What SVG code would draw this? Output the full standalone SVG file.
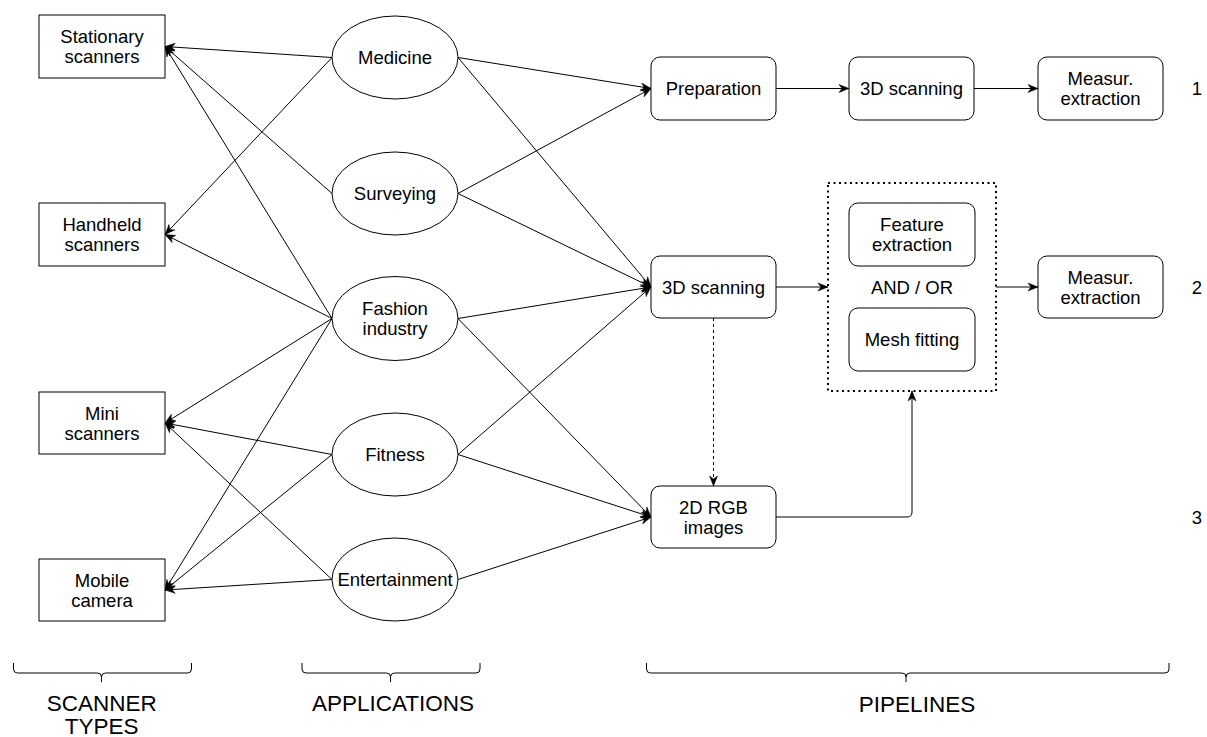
<svg xmlns="http://www.w3.org/2000/svg" width="1207" height="737" viewBox="0 0 1207 737">
<style>
.box{fill:#fff;stroke:#000;stroke-width:1}
.el{fill:#fff;stroke:#000;stroke-width:1}
.t{font-family:"Liberation Sans",Arial,sans-serif;font-size:18.5px;fill:#000;text-anchor:middle}
.big{font-family:"Liberation Sans",Arial,sans-serif;font-size:22.5px;fill:#000;text-anchor:middle}
.c{fill:none;stroke:#000;stroke-width:1;marker-end:url(#ah)}
.br{fill:none;stroke:#000;stroke-width:1}
</style>
<defs>
<marker id="ah" markerUnits="userSpaceOnUse" markerWidth="11" markerHeight="9" refX="10" refY="4" orient="auto" overflow="visible">
<path d="M0,0 L10,4 L0,8 L3,4 Z" fill="#000" stroke="#000" stroke-width="0.5"/>
</marker>
</defs>
<g id="connectors">
<line class="c" x1="332" y1="57.5" x2="165" y2="46.5"/>
<line class="c" x1="332" y1="57.5" x2="165" y2="234.5"/>
<line class="c" x1="332" y1="193.5" x2="165" y2="46.5"/>
<line class="c" x1="332" y1="318.5" x2="165" y2="46.5"/>
<line class="c" x1="332" y1="318.5" x2="165" y2="234.5"/>
<line class="c" x1="332" y1="318.5" x2="165" y2="423"/>
<line class="c" x1="332" y1="318.5" x2="165" y2="590"/>
<line class="c" x1="332" y1="454.5" x2="165" y2="423"/>
<line class="c" x1="332" y1="454.5" x2="165" y2="590"/>
<line class="c" x1="332" y1="579.5" x2="165" y2="423"/>
<line class="c" x1="332" y1="579.5" x2="165" y2="590"/>
<line class="c" x1="458" y1="57.5" x2="651" y2="88.5"/>
<line class="c" x1="458" y1="57.5" x2="651" y2="287"/>
<line class="c" x1="458" y1="193.5" x2="651" y2="88.5"/>
<line class="c" x1="458" y1="193.5" x2="651" y2="287"/>
<line class="c" x1="458" y1="318.5" x2="651" y2="287"/>
<line class="c" x1="458" y1="318.5" x2="651" y2="517"/>
<line class="c" x1="458" y1="454.5" x2="651" y2="287"/>
<line class="c" x1="458" y1="454.5" x2="651" y2="517"/>
<line class="c" x1="458" y1="579.5" x2="651" y2="517"/>
<line class="c" x1="776" y1="88.5" x2="849" y2="88.5"/>
<line class="c" x1="974" y1="88.5" x2="1038" y2="88.5"/>
<line class="c" x1="776" y1="287" x2="828" y2="287"/>
<line class="c" x1="996" y1="287" x2="1038" y2="287"/>
<line class="c" x1="713.5" y1="318" x2="713.5" y2="486" stroke-dasharray="3 3"/>
<path class="c" d="M776,517 L907,517 Q912,517 912,512 L912,391"/>
</g>
<g id="stationary"><rect class="box" x="39" y="15" width="126" height="63"/><text class="t" x="102" y="43.3">Stationary</text><text class="t" x="102" y="63.3">scanners</text></g>
<g id="handheld"><rect class="box" x="39" y="203" width="126" height="63"/><text class="t" x="102" y="231.3">Handheld</text><text class="t" x="102" y="251.3">scanners</text></g>
<g id="mini"><rect class="box" x="39" y="392" width="126" height="62"/><text class="t" x="102" y="419.8">Mini</text><text class="t" x="102" y="439.8">scanners</text></g>
<g id="mobile"><rect class="box" x="39" y="559" width="126" height="62"/><text class="t" x="102" y="586.8">Mobile</text><text class="t" x="102" y="606.8">camera</text></g>
<g id="medicine"><ellipse class="el" cx="395" cy="57.5" rx="63" ry="41.5"/><text class="t" x="395" y="64.1">Medicine</text></g>
<g id="surveying"><ellipse class="el" cx="395" cy="193.5" rx="63" ry="41.5"/><text class="t" x="395" y="200.1">Surveying</text></g>
<g id="fashion"><ellipse class="el" cx="395" cy="318.5" rx="63" ry="42"/><text class="t" x="395" y="315.3">Fashion</text><text class="t" x="395" y="335.3">industry</text></g>
<g id="fitness"><ellipse class="el" cx="395" cy="454.5" rx="63" ry="41.5"/><text class="t" x="395" y="461.1">Fitness</text></g>
<g id="entertainment"><ellipse class="el" cx="395" cy="579.5" rx="63" ry="41.5"/><text class="t" x="395" y="586.1">Entertainment</text></g>
<g id="preparation"><rect class="box" x="651" y="57" width="125" height="63" rx="9"/><text class="t" x="713.5" y="95.1">Preparation</text></g>
<g id="scan1"><rect class="box" x="849" y="57" width="125" height="63" rx="9"/><text class="t" x="911.5" y="95.1">3D scanning</text></g>
<g id="measur1"><rect class="box" x="1038" y="57" width="125" height="63" rx="9"/><text class="t" x="1100.5" y="85.3">Measur.</text><text class="t" x="1100.5" y="105.3">extraction</text></g>
<g id="scan2"><rect class="box" x="651" y="256" width="125" height="62" rx="9"/><text class="t" x="713.5" y="293.6">3D scanning</text></g>
<g id="container"><rect x="828" y="183" width="168" height="208" fill="none" stroke="#000" stroke-width="2" stroke-dasharray="2 3.5"/><text class="t" x="912" y="293.6">AND / OR</text></g>
<g id="feature"><rect class="box" x="849" y="203" width="126" height="63" rx="9"/><text class="t" x="912" y="231.3">Feature</text><text class="t" x="912" y="251.3">extraction</text></g>
<g id="mesh"><rect class="box" x="849" y="308" width="126" height="63" rx="9"/><text class="t" x="912" y="346.1">Mesh fitting</text></g>
<g id="measur2"><rect class="box" x="1038" y="256" width="125" height="62" rx="9"/><text class="t" x="1100.5" y="283.8">Measur.</text><text class="t" x="1100.5" y="303.8">extraction</text></g>
<g id="rgb"><rect class="box" x="651" y="486" width="125" height="62" rx="9"/><text class="t" x="713.5" y="513.8">2D RGB</text><text class="t" x="713.5" y="533.8">images</text></g>
<g id="num1"><text class="t" x="1197" y="95.1">1</text></g>
<g id="num2"><text class="t" x="1197" y="293.6">2</text></g>
<g id="num3"><text class="t" x="1197" y="523.6">3</text></g>
<g id="brace-scanner"><path class="br" d="M13.5,663 L13.5,669 Q13.5,673 17.5,673 L97.5,673 Q101.5,673 101.5,677 L101.5,682 M101.5,677 Q101.5,673 105.5,673 L187.5,673 Q191.5,673 191.5,669 L191.5,663"/><text class="big" x="101.7" y="711">SCANNER</text><text class="big" x="101.7" y="734">TYPES</text></g>
<g id="brace-applications"><path class="br" d="M302,663 L302,669 Q302,673 306,673 L386.5,673 Q390.5,673 390.5,677 L390.5,682 M390.5,677 Q390.5,673 394.5,673 L476,673 Q480,673 480,669 L480,663"/><text class="big" x="393" y="711">APPLICATIONS</text></g>
<g id="brace-pipelines"><path class="br" d="M646.5,663 L646.5,669 Q646.5,673 650.5,673 L902,673 Q906,673 906,677 L906,682 M906,677 Q906,673 910,673 L1165,673 Q1169,673 1169,669 L1169,663"/><text class="big" x="917" y="712">PIPELINES</text></g>
</svg>
